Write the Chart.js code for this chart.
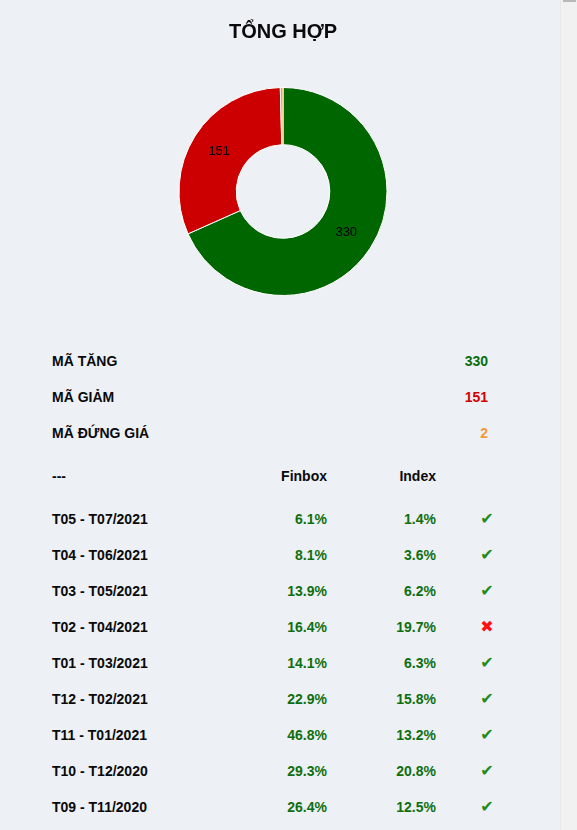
<!DOCTYPE html>
<html>
<head>
<meta charset="utf-8">
<script src="https://cdn.jsdelivr.net/npm/chart.js@4/dist/chart.umd.min.js"></script>
<style>
  html, body { margin: 0; padding: 0; overflow: hidden; }
  body { background: #edf0f5; font-family: "Liberation Sans", Arial, sans-serif; width: 577px; height: 830px; position: relative; }
  #chart-box { position: absolute; left: 0; top: 0; width: 566px; height: 310px; }
  #tables { position: absolute; left: 52px; top: 343px; width: 500px; font-weight: bold; font-size: 14px; color: #0a0a0a; }
  .stat { display: flex; justify-content: space-between; width: 436px; height: 36px; line-height: 36px; }
  .row { display: grid; grid-template-columns: 170px 105px 109px 102px; height: 36px; line-height: 36px; }
  .row .num { text-align: right; }
  .row .ico { text-align: center; font-family: "DejaVu Sans", sans-serif; font-size: 16px; }
  .head { margin-top: 7px; margin-bottom: 7px; }
  .up { color: #0f6f0f; }
  #scroll { position: absolute; right: 0; top: 0; width: 17px; height: 830px; background: #f1f1f1; border-left: 1px solid #e8e8e8; box-sizing: border-box; }
  #thumb { position: absolute; left: 2px; top: 0; width: 13px; height: 2px; background: #b8b8b8; }
</style>
</head>
<body>
<div id="chart-box"><canvas id="donut"></canvas></div>
<div id="tables"></div>
<div id="scroll"><div id="thumb"></div></div>
<script>
// tong hop
const statLabels = ['MÃ TĂNG', 'MÃ GIẢM', 'MÃ ĐỨNG GIÁ'];
const statValues = [330, 151, 2];
const statColors = ['#006600', '#cc0000', '#f5a030'];
const statTextColors = ['#0a6e0a', '#d40000', '#f39a3a'];

// bang so sanh
const headers = ['---', 'Finbox', 'Index'];
const periods = ['T05 - T07/2021', 'T04 - T06/2021', 'T03 - T05/2021', 'T02 - T04/2021', 'T01 - T03/2021',
                 'T12 - T02/2021', 'T11 - T01/2021', 'T10 - T12/2020', 'T09 - T11/2020'];
const finbox = [6.1, 8.1, 13.9, 16.4, 14.1, 22.9, 46.8, 29.3, 26.4];
const index = [1.4, 3.6, 6.2, 19.7, 6.3, 15.8, 13.2, 20.8, 12.5];

// label o giua moi lat cat
const sliceLabels = {
    id: 'sliceLabels',
    afterDatasetsDraw(chart) {
        const ctx = chart.ctx;
        const data = chart.data.datasets[0].data;
        const total = data.reduce((a, b) => a + b, 0);
        ctx.save();
        ctx.font = '13px "Liberation Sans", Arial, sans-serif';
        ctx.fillStyle = '#000';
        ctx.textAlign = 'center';
        ctx.textBaseline = 'middle';
        chart.getDatasetMeta(0).data.forEach((arc, i) => {
            if (data[i] / total < 0.02) return; // qua nho thi bo qua
            const p = arc.tooltipPosition();
            ctx.fillText(String(data[i]), p.x, p.y);
        });
        ctx.restore();
    }
};

new Chart(document.getElementById('donut'), {
    type: 'doughnut',
    data: {
        labels: statLabels,
        datasets: [{
            data: statValues,
            backgroundColor: statColors,
            borderColor: '#ffffff',
            borderWidth: 1
        }]
    },
    options: {
        responsive: true,
        maintainAspectRatio: false,
        animation: false,
        cutout: '45%',
        layout: { padding: { top: 0, bottom: 14 } },
        plugins: {
            legend: { display: false },
            tooltip: { enabled: false },
            title: {
                display: true,
                text: 'TỔNG HỢP',
                color: '#0a0a0a',
                font: { family: '"Liberation Sans", Arial, sans-serif', size: 20, weight: 'bold' },
                padding: { top: 20, bottom: 43 }
            }
        }
    },
    plugins: [sliceLabels]
});

// build the table part
const box = document.getElementById('tables');
let html = '';
statLabels.forEach((lab, i) => {
    html += '<div class="stat"><span>' + lab + '</span><span style="color:' + statTextColors[i] + '">' + statValues[i] + '</span></div>';
});
html += '<div class="row head"><span>' + headers[0] + '</span><span class="num">' + headers[1] + '</span><span class="num">' + headers[2] + '</span><span></span></div>';
periods.forEach((p, i) => {
    const ok = finbox[i] > index[i];
    const icon = ok ? '<span class="ico" style="color:#1e8c1e">✔</span>' : '<span class="ico" style="color:#ff1010">✖</span>';
    html += '<div class="row"><span>' + p + '</span><span class="num up">' + finbox[i].toFixed(1) + '%</span><span class="num up">' + index[i].toFixed(1) + '%</span>' + icon + '</div>';
});
box.innerHTML = html;
</script>
</body>
</html>
